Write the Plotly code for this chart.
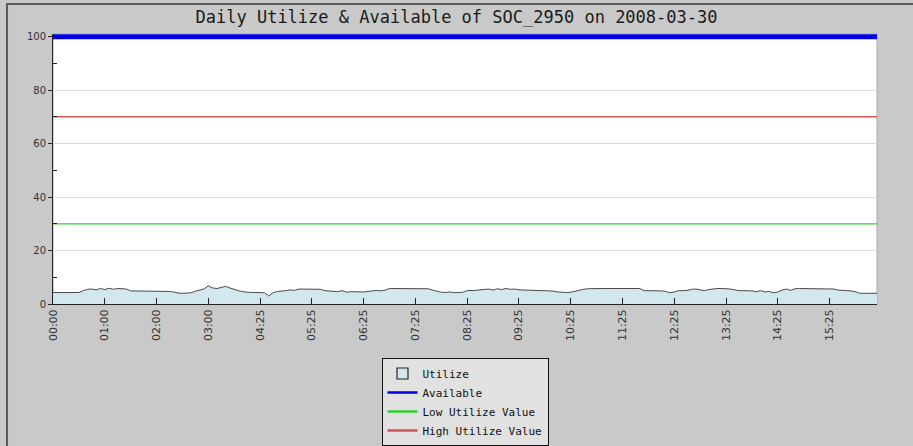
import plotly.graph_objects as go

TITLE = "Daily Utilize & Available of SOC_2950 on 2008-03-30"

# Utilize (%) samples, 12 samples per labelled tick interval
UTILIZE = [
    4.3, 4.3, 4.3, 4.3, 4.3, 4.3, 4.3, 5.0, 5.5, 5.6, 5.3, 5.8,
    5.4, 5.9, 5.5, 5.8, 5.7, 5.6, 4.9, 4.9, 4.9, 4.8, 4.8, 4.8,
    4.8, 4.8, 4.8, 4.7, 4.5, 4.1, 4.0, 4.0, 4.2, 4.8, 5.2, 5.6,
    6.8, 6.0, 5.8, 6.3, 6.6, 6.0, 5.4, 5.0, 4.6, 4.4, 4.3, 4.3,
    4.3, 4.2, 3.0, 4.2, 4.7, 4.8, 5.0, 5.3, 5.1, 5.6, 5.6, 5.6,
    5.6, 5.6, 5.5, 5.0, 4.8, 4.7, 4.6, 5.0, 4.4, 4.6, 4.5, 4.6,
    4.5, 4.7, 5.0, 5.1, 4.9, 5.2, 5.8, 5.8, 5.8, 5.8, 5.8, 5.8,
    5.8, 5.8, 5.8, 5.7, 5.2, 4.7, 4.4, 4.3, 4.5, 4.2, 4.3, 4.4,
    5.0, 5.0, 5.1, 5.3, 5.4, 5.6, 5.2, 5.7, 5.4, 5.8, 5.5, 5.6,
    5.3, 5.2, 5.1, 5.0, 5.0, 5.0, 5.0, 5.0, 4.8, 4.5, 4.3, 4.3,
    4.4, 4.8, 5.2, 5.5, 5.7, 5.8, 5.8, 5.8, 5.8, 5.8, 5.8, 5.8,
    5.8, 5.8, 5.8, 5.8, 5.8, 5.0, 5.0, 5.0, 4.9, 4.9, 4.7, 4.2,
    4.5, 5.0, 5.0, 5.1, 5.5, 5.6, 5.3, 5.0, 5.4, 5.7, 5.8, 5.8,
    5.8, 5.6, 5.3, 5.0, 5.0, 5.0, 4.9, 4.6, 5.0, 4.5, 4.7, 4.2,
    4.5, 5.2, 5.6, 5.1, 5.7, 5.8, 5.8, 5.8, 5.8, 5.8, 5.8, 5.8,
    5.8, 5.6, 5.2, 5.0, 5.0, 4.9, 4.6, 4.0, 4.0, 4.0, 4.0, 4.0,
]
SAMPLE = list(range(len(UTILIZE)))

AVAILABLE = 100
LOW_UTILIZE = 30
HIGH_UTILIZE = 70

TICK_LABELS = ["00:00", "01:00", "02:00", "03:00", "04:25", "05:25", "06:25", "07:25",
               "08:25", "09:25", "10:25", "11:25", "12:25", "13:25", "14:25", "15:25"]
TICK_SAMPLE = [0, 12, 24, 36, 48, 60, 72, 84, 96, 108, 120, 132, 144, 156, 168, 180]

ends = [SAMPLE[0], SAMPLE[-1]]

FILL = "#d3e8ee"
BLUE = "#0000e0"
GREEN = "#33cc33"
RED = "#d05555"

fig = go.Figure()
# plotted series (legend handled by the key entries below)
fig.add_trace(go.Scatter(
    x=SAMPLE, y=UTILIZE, name="Utilize", mode="lines", fill="tozeroy",
    fillcolor=FILL, line=dict(color="#4a4a4a", width=1), showlegend=False))
fig.add_trace(go.Scatter(
    x=ends, y=[AVAILABLE, AVAILABLE], name="Available", mode="lines",
    line=dict(color=BLUE, width=5), showlegend=False))
fig.add_trace(go.Scatter(
    x=ends, y=[LOW_UTILIZE, LOW_UTILIZE], name="Low Utilize Value", mode="lines",
    line=dict(color=GREEN, width=1.2), showlegend=False))
fig.add_trace(go.Scatter(
    x=ends, y=[HIGH_UTILIZE, HIGH_UTILIZE], name="High Utilize Value", mode="lines",
    line=dict(color=RED, width=1.5), showlegend=False))

# legend key entries
fig.add_trace(go.Scatter(x=[None], y=[None], name="Utilize", mode="markers",
                         marker=dict(symbol="square", size=11, color=FILL,
                                     line=dict(color="#222222", width=1.2))))
fig.add_trace(go.Scatter(x=[None], y=[None], name="Available", mode="lines",
                         line=dict(color=BLUE, width=2.5)))
fig.add_trace(go.Scatter(x=[None], y=[None], name="Low Utilize Value", mode="lines",
                         line=dict(color=GREEN, width=2.5)))
fig.add_trace(go.Scatter(x=[None], y=[None], name="High Utilize Value", mode="lines",
                         line=dict(color=RED, width=2.5)))

fig.update_layout(
    width=913, height=446,
    margin=dict(l=53, r=36, t=34, b=142),
    paper_bgcolor="#c9c9c9", plot_bgcolor="#ffffff",
    title=dict(text=TITLE, x=0.5, xanchor="center", y=1 - 17 / 446, yanchor="middle",
               yref="container",
               font=dict(family="DejaVu Sans Mono", size=17, color="#1a1a1a")),
    showlegend=True,
    legend=dict(x=0.5, xanchor="center", xref="paper", y=1 - 358 / 446, yanchor="top",
                yref="container", orientation="v",
                bgcolor="#e1e1e1", bordercolor="#111111", borderwidth=1,
                font=dict(family="DejaVu Sans Mono", size=11, color="#111111"),
                traceorder="normal"),
    xaxis=dict(range=[SAMPLE[0], SAMPLE[-1]], tickmode="array", tickvals=TICK_SAMPLE,
               ticktext=TICK_LABELS, tickangle=-90, ticks="inside", ticklen=6,
               tickcolor="#222222", showgrid=False, zeroline=False, showline=True,
               linecolor="#222222", linewidth=1, automargin=False,
               tickfont=dict(family="DejaVu Sans", size=11, color="#333333")),
    yaxis=dict(range=[0, 101], tickmode="array", tickvals=[0, 20, 40, 60, 80, 100],
               ticks="outside", ticklen=4, tickcolor="#222222", showgrid=True,
               gridcolor="#dcdcdc", gridwidth=1, zeroline=False, showline=True,
               linecolor="#222222", linewidth=1, automargin=False,
               minor=dict(tickvals=[10, 30, 50, 70, 90], ticks="inside", ticklen=4,
                          tickcolor="#222222", showgrid=False),
               tickfont=dict(family="DejaVu Sans", size=10, color="#333333")),
    shapes=[
        dict(type="rect", xref="paper", yref="paper", x0=0, x1=1, y0=0, y1=1,
             line=dict(color="#aaaaaa", width=1), layer="below"),
        dict(type="path", xref="paper", yref="paper",
             path="M -0.0558,-0.6 L -0.0558,1.111 L 1.2,1.111",
             line=dict(color="#5a5a5a", width=2)),
    ],
)

fig.write_html("out.html", config={"displayModeBar": False},
               post_script="document.body.style.margin='0';")
